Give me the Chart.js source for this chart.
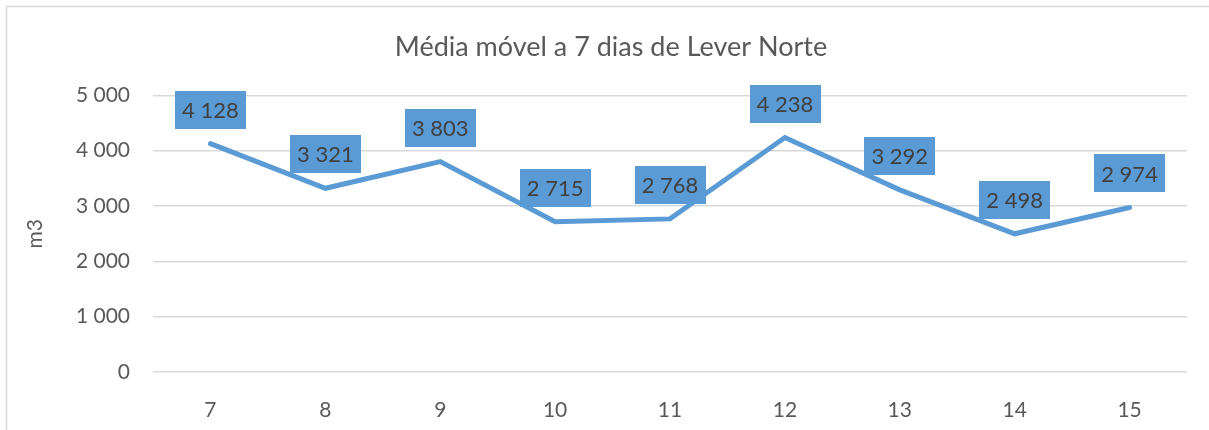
<!DOCTYPE html>
<html>
<head>
<meta charset="utf-8">
<script src="https://cdn.jsdelivr.net/npm/chart.js@4.4.1/dist/chart.umd.min.js"></script>
<style>
  html, body { margin: 0; padding: 0; background: #fff; overflow: hidden; }
  #wrap { width: 1209px; height: 430px; }
</style>
</head>
<body>
<div id="wrap"><canvas id="chart" width="1209" height="430"></canvas></div>
<script>
const days = ['7', '8', '9', '10', '11', '12', '13', '14', '15'];
const avgVolume = [4128, 3321, 3803, 2715, 2768, 4238, 3292, 2498, 2974];
const yTicks = [0, 1000, 2000, 3000, 4000, 5000];

const FONT = "Lato, 'Open Sans', sans-serif";
const BLUE = '#5b9bd5';
const GREY_TEXT = '#595959';

// "4128" -> "4 128"
const fmt = v => String(v).replace(/\B(?=(\d{3})+(?!\d))/g, ' ');

// outer frame + y axis title
const framePlugin = {
  id: 'frame',
  beforeDraw(chart) {
    const ctx = chart.ctx;
    ctx.save();
    ctx.strokeStyle = '#d9d9d9';
    ctx.lineWidth = 1.5;
    ctx.strokeRect(6.5, 6.5, 1300, 600);
    ctx.restore();
  },
  afterDraw(chart) {
    const ctx = chart.ctx;
    const area = chart.chartArea;
    ctx.save();
    ctx.translate(35, (area.top + area.bottom) / 2);
    ctx.rotate(-Math.PI / 2);
    ctx.fillStyle = GREY_TEXT;
    ctx.font = '21px ' + FONT;
    ctx.textAlign = 'center';
    ctx.textBaseline = 'middle';
    ctx.fillText('m3', 0, 0);
    ctx.restore();
  }
};

// boxed value labels above each point
const boxLabels = {
  id: 'boxLabels',
  afterDatasetsDraw(chart) {
    const ctx = chart.ctx;
    const meta = chart.getDatasetMeta(0);
    ctx.save();
    ctx.font = '22px ' + FONT;
    ctx.textAlign = 'center';
    ctx.textBaseline = 'middle';
    meta.data.forEach((pt, i) => {
      const txt = fmt(avgVolume[i]);
      const w = ctx.measureText(txt).width + 14;
      const h = 38;
      const cx = pt.x, cy = pt.y - 34;
      ctx.fillStyle = BLUE;
      ctx.fillRect(Math.round(cx - w / 2), Math.round(cy - h / 2), Math.round(w), h);
      ctx.fillStyle = '#404040';
      ctx.fillText(txt, cx, cy + 1);
    });
    ctx.restore();
  }
};

const ctx = document.getElementById('chart').getContext('2d');
new Chart(ctx, {
  type: 'line',
  data: {
    labels: days,
    datasets: [{
      label: 'Média móvel',
      data: avgVolume,
      borderColor: BLUE,
      borderWidth: 5,
      borderCapStyle: 'round',
      borderJoinStyle: 'miter',
      pointRadius: 0,
      tension: 0,
      fill: false
    }]
  },
  options: {
    responsive: false,
    animation: false,
    layout: { padding: { left: 35, right: 22, top: 0, bottom: 0 } },
    plugins: {
      legend: { display: false },
      tooltip: { enabled: false },
      title: {
        display: true,
        text: 'Média móvel a 7 dias de Lever Norte',
        color: GREY_TEXT,
        font: { family: FONT, size: 27, weight: 'normal' },
        padding: { top: 31, bottom: 32 }
      }
    },
    scales: {
      x: {
        offset: true,
        grid: { display: false },
        border: { display: false },
        ticks: { color: GREY_TEXT, font: { family: FONT, size: 21 }, padding: 18 },
        afterFit: s => { s.height = 58; }
      },
      y: {
        min: 0,
        max: 5000,
        afterBuildTicks: s => { s.ticks = yTicks.map(v => ({ value: v })); },
        grid: { color: '#d9d9d9', lineWidth: 1.5, drawTicks: false },
        border: { display: false },
        ticks: {
          color: GREY_TEXT,
          font: { family: FONT, size: 21 },
          padding: 23,
          callback: v => fmt(v)
        },
        afterFit: s => { s.width = 118; }
      }
    }
  },
  plugins: [framePlugin, boxLabels]
});
</script>
</body>
</html>
